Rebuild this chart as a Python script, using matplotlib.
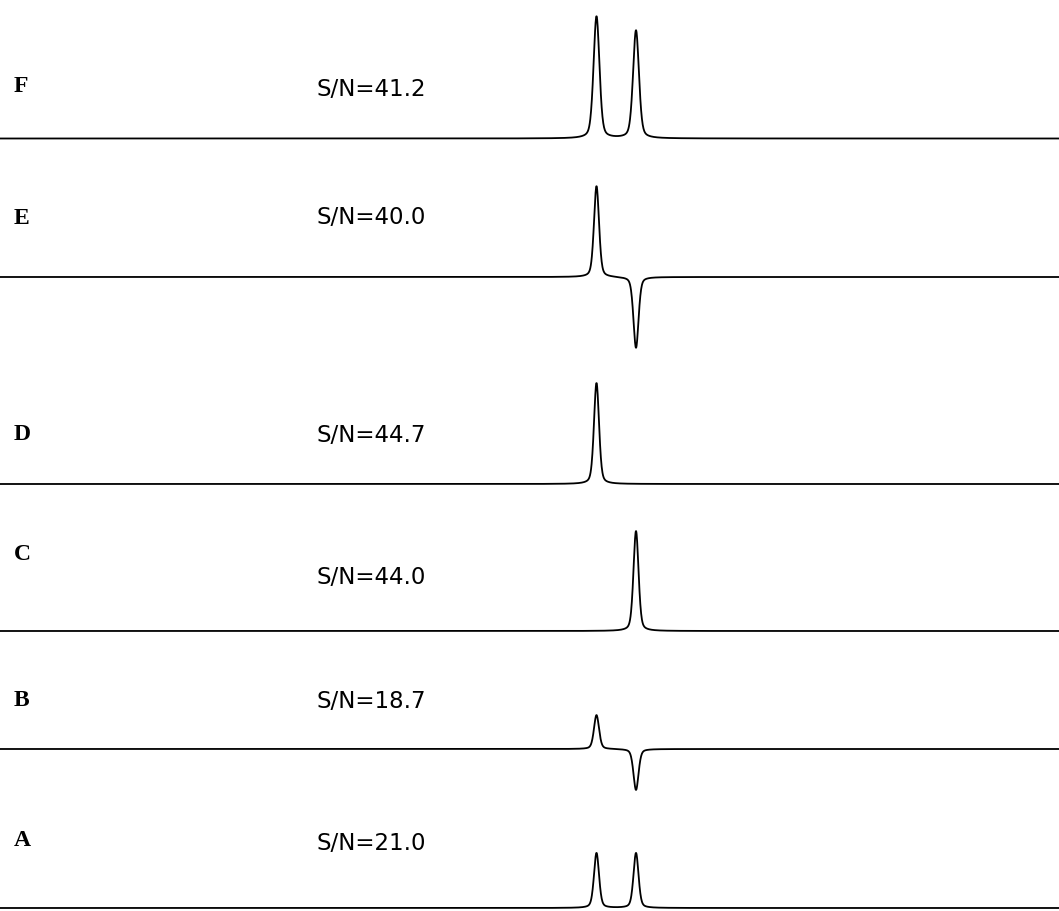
import numpy as np
import matplotlib
matplotlib.use("Agg")
import matplotlib.pyplot as plt

# ---- data ----
labels = ['F', 'E', 'D', 'C', 'B', 'A']
sn_values = ['41.2', '40.0', '44.7', '44.0', '18.7', '21.0']
peak_positions = [596.5, 636.0]          # shift axis (arbitrary units)
peak_amplitudes = [
    [122.0, 108.0],   # F
    [91.0, -71.0],    # E
    [101.0, 0.0],     # D
    [0.0, 100.0],     # C
    [34.0, -41.0],    # B
    [55.0, 55.0],     # A
]
peak_fwhm = [7.0, 6.0, 6.0, 6.0, 6.0, 6.0]

# ---- layout (vertical stacking offsets, in axis units) ----
baselines = [138.5, 277.0, 484.0, 631.0, 749.0, 908.0]
label_y = [86, 218, 435, 554, 700, 841]
sn_y = [89, 218, 435, 577, 702, 843]

x = np.linspace(0, 1059, 4000)


def lineshape(xc, fwhm):
    g = fwhm / 2.0
    lor = g ** 2 / ((x - xc) ** 2 + g ** 2)
    sig = fwhm / 2.3548
    gau = np.exp(-0.5 * ((x - xc) / sig) ** 2)
    return 0.35 * lor + 0.65 * gau


fig = plt.figure(figsize=(10.59, 9.11), dpi=100)
ax = fig.add_axes([0, 0, 1, 1])
ax.set_xlim(0, 1059)
ax.set_ylim(911, 0)
ax.axis('off')

for i, lab in enumerate(labels):
    y = np.zeros_like(x)
    for pos, amp in zip(peak_positions, peak_amplitudes[i]):
        y += amp * lineshape(pos, peak_fwhm[i])
    ax.plot(x, baselines[i] - y, color='black', lw=1.3)
    ax.text(14, label_y[i], lab, fontsize=17, fontweight='bold',
            family='Liberation Serif', va='center', ha='left')
    ax.text(317, sn_y[i], 'S/N=' + sn_values[i], fontsize=16.5,
            family='DejaVu Sans', fontweight='normal', va='center', ha='left')

fig.savefig('out.png', dpi=100)
